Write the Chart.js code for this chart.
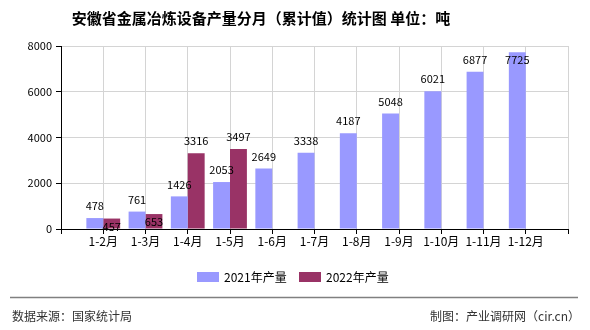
<!DOCTYPE html>
<html lang="zh-CN">
<head>
<meta charset="utf-8">
<title>安徽省金属冶炼设备产量分月（累计值）统计图</title>
<script src="https://cdn.jsdelivr.net/npm/chart.js@4/dist/chart.umd.min.js"></script>
<style>
    html, body { margin: 0; padding: 0; background: #fff; }
    #chart { display: block; }
</style>
</head>
<body>
<canvas id="chart" width="590" height="330"></canvas>
<script>
const months = ['1-2月', '1-3月', '1-4月', '1-5月', '1-6月', '1-7月', '1-8月', '1-9月', '1-10月', '1-11月', '1-12月'];
const output2021 = [478, 761, 1426, 2053, 2649, 3338, 4187, 5048, 6021, 6877, 7725];
const output2022 = [457, 653, 3316, 3497];
const seriesNames = ['2021年产量', '2022年产量'];
const yTicks = [0, 2000, 4000, 6000, 8000];

const titleText = '安徽省金属冶炼设备产量分月（累计值）统计图 单位：吨';
const sourceText = '数据来源：国家统计局';
const creditText = '制图：产业调研网（cir.cn）';

const colors = ['#9999ff', '#993366'];
const cjk = "'Noto Sans CJK SC', 'Noto Sans', sans-serif";

// empty slot on both ends so the gridlines land on each month
const labels = [''].concat(months, ['']);
function pad(values) {
    const out = [null].concat(values);
    while (out.length < labels.length) out.push(null);
    return out;
}

// value labels over the bars; a 2022 label that would sit on top of the
// 2021 label is pushed down into its own bar
const valueLabels = {
    id: 'valueLabels',
    afterDatasetsDraw(chart) {
        const ctx = chart.ctx;
        const area = chart.chartArea;
        ctx.save();
        ctx.font = '11px ' + cjk;
        ctx.fillStyle = '#000';
        ctx.textAlign = 'center';
        ctx.textBaseline = 'middle';
        const placed = {};
        chart.data.datasets.forEach((ds, di) => {
            const meta = chart.getDatasetMeta(di);
            meta.data.forEach((bar, i) => {
                const v = ds.data[i];
                if (v === null || v === undefined) return;
                const text = String(v);
                const w = ctx.measureText(text).width;
                let y = bar.y - 12;
                if (y - 6 < area.top) y = bar.y + 8;
                const other = placed[i];
                if (di === 1 && other && Math.abs(other.y - y) < 12 &&
                    Math.abs(other.x - bar.x) < (other.w + w) / 2) {
                    y = bar.y + 8;
                }
                if (di === 0) placed[i] = { x: bar.x, y: y, w: w };
                ctx.fillText(text, bar.x, y);
            });
        });
        ctx.restore();
    }
};

// title, legend and footer
const decorations = {
    id: 'decorations',
    afterDraw(chart) {
        const ctx = chart.ctx;
        ctx.save();
        ctx.fillStyle = '#000';
        ctx.textBaseline = 'middle';

        ctx.font = 'bold 15px ' + cjk;
        ctx.textAlign = 'center';
        ctx.fillText(titleText, 261, 18);

        ctx.font = '12px ' + cjk;
        ctx.textAlign = 'left';
        const legendX = [197, 299];
        seriesNames.forEach((name, i) => {
            ctx.fillStyle = colors[i];
            ctx.fillRect(legendX[i], 272, 22, 10);
            ctx.fillStyle = '#000';
            ctx.fillText(name, legendX[i] + 27, 277);
        });

        ctx.strokeStyle = '#808080';
        ctx.lineWidth = 1.5;
        ctx.beginPath();
        ctx.moveTo(10, 297.5);
        ctx.lineTo(578, 297.5);
        ctx.stroke();

        ctx.fillStyle = '#333';
        ctx.font = '12px ' + cjk;
        ctx.textAlign = 'left';
        ctx.fillText(sourceText, 12, 316);
        ctx.textAlign = 'right';
        ctx.fillText(creditText, 580, 316);
        ctx.restore();
    }
};

new Chart(document.getElementById('chart'), {
    type: 'bar',
    data: {
        labels: labels,
        datasets: [
            { label: seriesNames[0], data: pad(output2021), backgroundColor: colors[0] },
            { label: seriesNames[1], data: pad(output2022), backgroundColor: colors[1] }
        ]
    },
    options: {
        responsive: false,
        animation: false,
        events: [],
        layout: { padding: { left: 0, right: 22, top: 46, bottom: 0 } },
        datasets: {
            bar: { categoryPercentage: 0.8, barPercentage: 1.0 }
        },
        plugins: {
            legend: { display: false },
            title: { display: false },
            tooltip: { enabled: false }
        },
        scales: {
            x: {
                offset: false,
                grid: { color: '#d4d4d4', tickColor: '#000', tickLength: 5, offset: false },
                border: { color: '#000', width: 1 },
                ticks: {
                    color: '#000',
                    font: { family: cjk, size: 12 },
                    padding: 0,
                    autoSkip: false,
                    maxRotation: 0
                },
                afterFit(scale) { scale.height = 101; }
            },
            y: {
                min: 0,
                max: 8000,
                afterBuildTicks(scale) { scale.ticks = yTicks.map(v => ({ value: v })); },
                grid: { color: '#d4d4d4', tickColor: '#000', tickLength: 5 },
                border: { color: '#000', width: 1 },
                ticks: {
                    color: '#000',
                    font: { family: cjk, size: 11 },
                    padding: 4,
                    callback: (value) => String(value)
                },
                afterFit(scale) { scale.width = 61; }
            }
        }
    },
    plugins: [valueLabels, decorations]
});
</script>
</body>
</html>
